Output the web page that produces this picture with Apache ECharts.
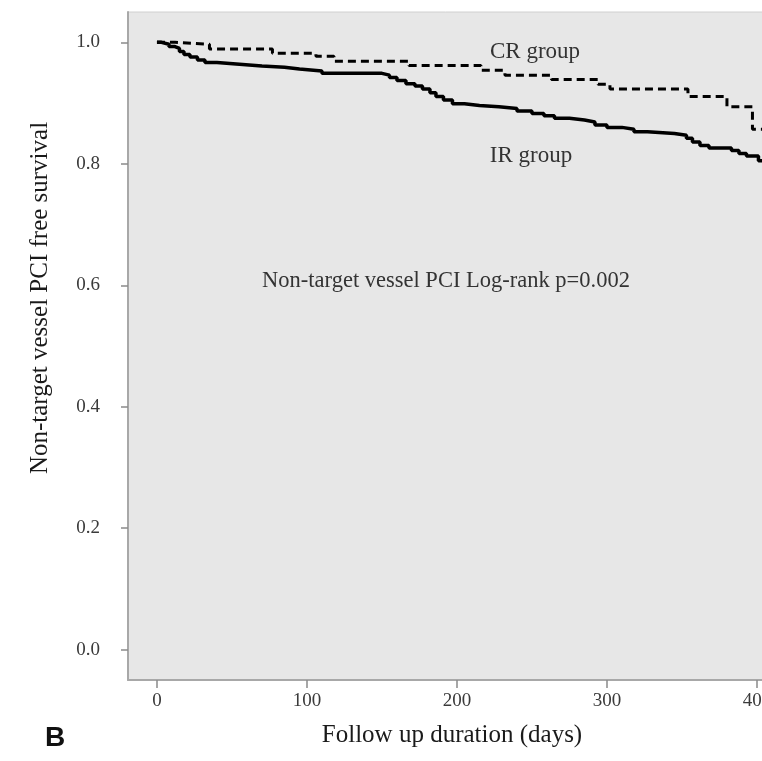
<!DOCTYPE html>
<html>
<head>
<meta charset="utf-8">
<script src="https://cdn.jsdelivr.net/npm/echarts@6/dist/echarts.min.js"></script>
<style>
  html, body { margin: 0; padding: 0; background: #fff; }
  #chart { width: 762px; height: 761px; }
</style>
</head>
<body>
<div id="chart"></div>
<script>
  // survival steps: [day, survival]
  const irDays = [0, 3, 8, 12, 15, 18, 22, 27, 32, 40, 55, 70, 85, 95, 110, 150, 155, 160, 166, 172,
    177, 182, 186, 191, 197, 205, 215, 228, 240, 250, 258, 265, 275, 285, 292, 300, 310, 318, 327,
    345, 353, 357, 362, 368, 383, 388, 393, 401, 404.7];
  const irSurv = [1.0, 0.997, 0.993, 0.99, 0.985, 0.98, 0.976, 0.971, 0.967, 0.964, 0.961, 0.959, 0.956,
    0.953, 0.949, 0.946, 0.942, 0.937, 0.932, 0.928, 0.923, 0.917, 0.911, 0.905, 0.899, 0.896, 0.894,
    0.891, 0.887, 0.883, 0.879, 0.875, 0.872, 0.869, 0.864, 0.86, 0.857, 0.853, 0.85, 0.847, 0.842,
    0.836, 0.83, 0.826, 0.822, 0.817, 0.813, 0.805, 0.797];

  const crDays = [0, 12, 35, 77, 106, 118, 168, 216, 232, 263, 294, 302, 354, 380, 397, 404.7];
  const crSurv = [1.0, 0.997, 0.989, 0.982, 0.977, 0.969, 0.962, 0.954, 0.946, 0.939, 0.931, 0.923,
    0.911, 0.894, 0.857, 0.857];

  const xTicks = [0, 100, 200, 300, 400];
  const yTicks = [0, 0.2, 0.4, 0.6, 0.8, 1.0];

  const serif = '"Liberation Serif", "DejaVu Serif", serif';

  const chartObj = echarts.init(document.getElementById('chart'));

  const zip = (xs, ys) => xs.map((x, i) => [x, ys[i]]);

  chartObj.setOption({
    animation: false,
    grid: {
      // plot runs past the right edge of the picture, like the cropped original
      left: 128, top: 12, right: -2, bottom: 81,
      outerBoundsMode: 'none',
      containLabel: false,
      show: true,
      backgroundColor: '#e7e7e7',
      borderColor: '#d0d0d0',
      borderWidth: 1
    },
    xAxis: {
      type: 'value',
      min: -19.3,
      max: 404.7,
      splitLine: { show: false },
      axisLine: { show: true, onZero: false, lineStyle: { color: '#a8a8a8', width: 2 } },
      axisTick: { show: true, length: 8, customValues: xTicks, lineStyle: { color: '#8a8a8a', width: 1.5 } },
      axisLabel: {
        customValues: xTicks,
        margin: 12,
        color: '#3a3a3a',
        fontFamily: serif,
        fontSize: 19
      }
    },
    yAxis: {
      type: 'value',
      min: -0.05,
      max: 1.05,
      splitLine: { show: false },
      axisLine: { show: true, onZero: false, lineStyle: { color: '#a8a8a8', width: 2 } },
      axisTick: { show: true, length: 7, customValues: yTicks, lineStyle: { color: '#8a8a8a', width: 1.5 } },
      axisLabel: {
        customValues: yTicks,
        margin: 28,
        color: '#3a3a3a',
        fontFamily: serif,
        fontSize: 19,
        formatter: v => v.toFixed(1)
      }
    },
    graphic: [
      {
        type: 'text', x: 40, y: 298, rotation: Math.PI / 2,
        style: {
          text: 'Non-target vessel PCI free survival',
          fill: '#1a1a1a', font: '25px ' + serif,
          textAlign: 'center', textVerticalAlign: 'middle'
        }
      },
      {
        type: 'text', x: 452, y: 735,
        style: {
          text: 'Follow up duration (days)',
          fill: '#1a1a1a', font: '25px ' + serif,
          textAlign: 'center', textVerticalAlign: 'middle'
        }
      },
      {
        type: 'text', x: 535, y: 52,
        style: { text: 'CR group', fill: '#333', font: '23px ' + serif, textAlign: 'center', textVerticalAlign: 'middle' }
      },
      {
        type: 'text', x: 531, y: 156,
        style: { text: 'IR group', fill: '#333', font: '23px ' + serif, textAlign: 'center', textVerticalAlign: 'middle' }
      },
      {
        type: 'text', x: 446, y: 281,
        style: { text: 'Non-target vessel PCI Log-rank p=0.002', fill: '#333', font: '22.5px ' + serif, textAlign: 'center', textVerticalAlign: 'middle' }
      },
      {
        type: 'text', x: 55, y: 738,
        style: { text: 'B', fill: '#111', font: 'bold 28px "Liberation Sans", Arial, sans-serif', textAlign: 'center', textVerticalAlign: 'middle' }
      }
    ],
    series: [
      {
        name: 'IR group',
        type: 'line',
        step: 'end',
        showSymbol: false,
        data: zip(irDays, irSurv),
        lineStyle: { color: '#000', width: 3.5 }
      },
      {
        name: 'CR group',
        type: 'line',
        step: 'end',
        showSymbol: false,
        data: zip(crDays, crSurv),
        lineStyle: { color: '#000', width: 3, type: [8, 5] }
      }
    ]
  });
</script>
</body>
</html>
